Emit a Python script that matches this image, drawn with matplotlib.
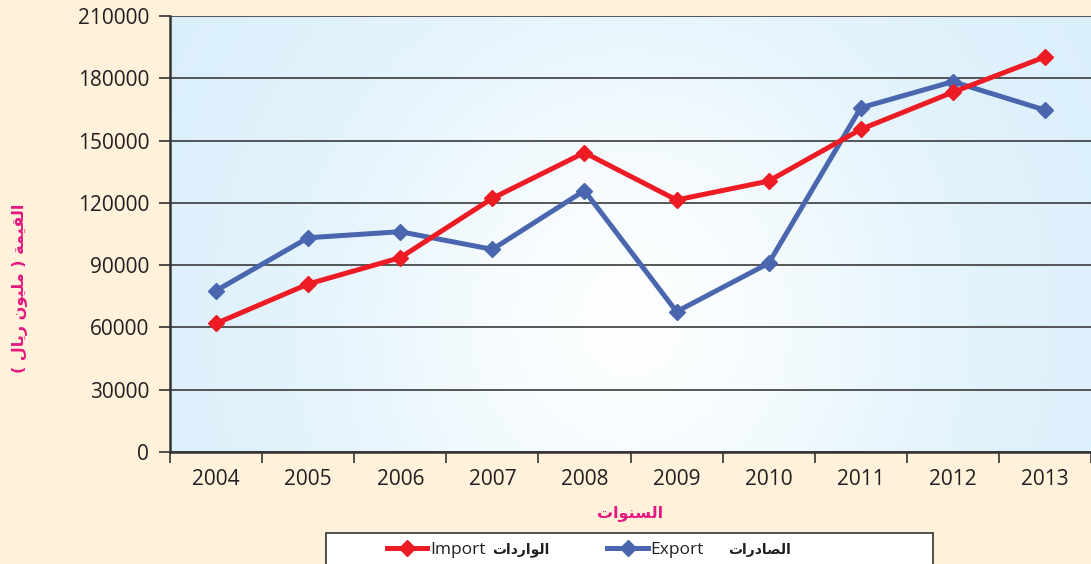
import numpy as np
import matplotlib
matplotlib.use("Agg")
import matplotlib.pyplot as plt
from matplotlib.patches import Rectangle

years = ["2004", "2005", "2006", "2007", "2008", "2009", "2010", "2011", "2012", "2013"]
imports = [61900, 80900, 93600, 122200, 144200, 121400, 130500, 155400, 173300, 190300]
exports = [77700, 103200, 106100, 97600, 125900, 67600, 90900, 165800, 178400, 164700]
y_ticks = [0, 30000, 60000, 90000, 120000, 150000, 180000, 210000]

x_title = "السنوات"
y_title = "القيمة ( مليون ريال )"
import_ar = "الواردات"
export_ar = "الصادرات"

# presentation forms: isolated, final, initial, medial (None = does not join forward)
FORMS = {
    "ا": ("\ufe8d", "\ufe8e", None, None),
    "ل": ("\ufedd", "\ufede", "\ufedf", "\ufee0"),
    "س": ("\ufeb1", "\ufeb2", "\ufeb3", "\ufeb4"),
    "ن": ("\ufee5", "\ufee6", "\ufee7", "\ufee8"),
    "و": ("\ufeed", "\ufeee", None, None),
    "ت": ("\ufe95", "\ufe96", "\ufe97", "\ufe98"),
    "ق": ("\ufed5", "\ufed6", "\ufed7", "\ufed8"),
    "ي": ("\ufef1", "\ufef2", "\ufef3", "\ufef4"),
    "م": ("\ufee1", "\ufee2", "\ufee3", "\ufee4"),
    "ة": ("\ufe93", "\ufe94", None, None),
    "ر": ("\ufead", "\ufeae", None, None),
    "د": ("\ufea9", "\ufeaa", None, None),
    "ص": ("\ufeb9", "\ufeba", "\ufebb", "\ufebc"),
}


def shape(text):
    out = []
    for i, ch in enumerate(text):
        if ch not in FORMS:
            out.append(ch)
            continue
        prev = text[i - 1] if i > 0 else ""
        nxt = text[i + 1] if i + 1 < len(text) else ""
        joins_prev = prev in FORMS and FORMS[prev][2] is not None
        joins_next = nxt in FORMS and FORMS[ch][2] is not None
        iso, fin, ini, med = FORMS[ch]
        if joins_prev and joins_next:
            out.append(med)
        elif joins_prev:
            out.append(fin)
        elif joins_next:
            out.append(ini)
        else:
            out.append(iso)
    vis = "".join(reversed(out))
    return vis.translate(str.maketrans("()", ")("))


cream = "#FFF1DA"
red = "#ED1C24"
blue = "#4A66AE"
pink = "#E5187F"
ink = "#231F20"

fig = plt.figure(figsize=(10.91, 5.64), dpi=100, facecolor=cream)
ax = fig.add_axes([170 / 1091, 1 - 452 / 564, 921 / 1091, 436 / 564])
ax.set_facecolor("#DCEFFA")

# soft light-blue to white fill behind the plot
gx, gy = np.meshgrid(np.linspace(0, 1, 400), np.linspace(0, 1, 200))
w = np.exp(-((gx - 0.5) / 0.33) ** 2 - ((gy - 0.3) / 0.75) ** 2)
c0 = np.array([218, 239, 251]) / 255
c1 = np.array([252, 254, 255]) / 255
img = c0 + (c1 - c0) * w[..., None]
ax.imshow(img, extent=[0, 1, 0, 1], transform=ax.transAxes, origin="lower",
          aspect="auto", zorder=0, interpolation="bilinear")

x = np.arange(len(years))
ax.plot(x, imports, color=red, lw=3.6, marker="D", ms=8, zorder=4, label="Import")
ax.plot(x, exports, color=blue, lw=3.6, marker="D", ms=8, zorder=3, label="Export")

ax.set_xlim(-0.5, 9.5)
ax.set_ylim(0, 210000)
ax.set_yticks(y_ticks)
ax.set_yticklabels([str(v) for v in y_ticks])
ax.yaxis.grid(True, color="#3A3A3A", lw=1.2, zorder=1)
ax.set_axisbelow(True)

ax.set_xticks(np.arange(-0.5, 10, 1))
ax.set_xticklabels([])
ax.set_xticks(x, minor=True)
ax.set_xticklabels(years, minor=True)
ax.tick_params(axis="x", which="major", direction="out", length=8, width=1.2, color="#333333")
ax.tick_params(axis="x", which="minor", length=0, pad=12)
ax.tick_params(axis="y", direction="out", length=8, width=1.2, color="#333333", pad=7)
for lab in ax.get_xticklabels(minor=True) + ax.get_yticklabels():
    lab.set_fontfamily("Open Sans")
    lab.set_fontsize(15)
    lab.set_color(ink)

for side in ["top", "right"]:
    ax.spines[side].set_visible(False)
for side in ["left", "bottom"]:
    ax.spines[side].set_color("#333333")
    ax.spines[side].set_linewidth(1.8)

fig.text(630 / 1091, 1 - 513 / 564, shape(x_title), color=pink, fontsize=11.5,
         fontweight="bold", family="DejaVu Sans", ha="center", va="center")
fig.text(20 / 1091, 1 - 288 / 564, shape(y_title), color=pink, fontsize=11.5,
         fontweight="bold", family="DejaVu Sans", ha="center", va="center",
         rotation=90)

# legend box running off the bottom edge
fig.patches.append(Rectangle((326 / 1091, -0.02), 607 / 1091, 0.02 + 31 / 564,
                             transform=fig.transFigure, facecolor="white",
                             edgecolor="#333333", lw=1.2, zorder=1))
leg = fig.legend(loc="center left", bbox_to_anchor=(378 / 1091, 1 - 550 / 564),
                 ncol=2, frameon=False, borderpad=0, handlelength=2.35,
                 handletextpad=0.15, columnspacing=7.0,
                 prop={"family": "Open Sans", "size": 12.5})
for t in leg.get_texts():
    t.set_color(ink)

# Arabic names beside the legend entries
fig.text(492 / 1091, 1 - 550 / 564, shape(import_ar), color=ink, fontsize=10,
         fontweight="bold", family="DejaVu Sans", ha="left", va="center")
fig.text(728 / 1091, 1 - 550 / 564, shape(export_ar), color=ink, fontsize=10,
         fontweight="bold", family="DejaVu Sans", ha="left", va="center")

fig.savefig("out.png", dpi=100, facecolor=cream)
